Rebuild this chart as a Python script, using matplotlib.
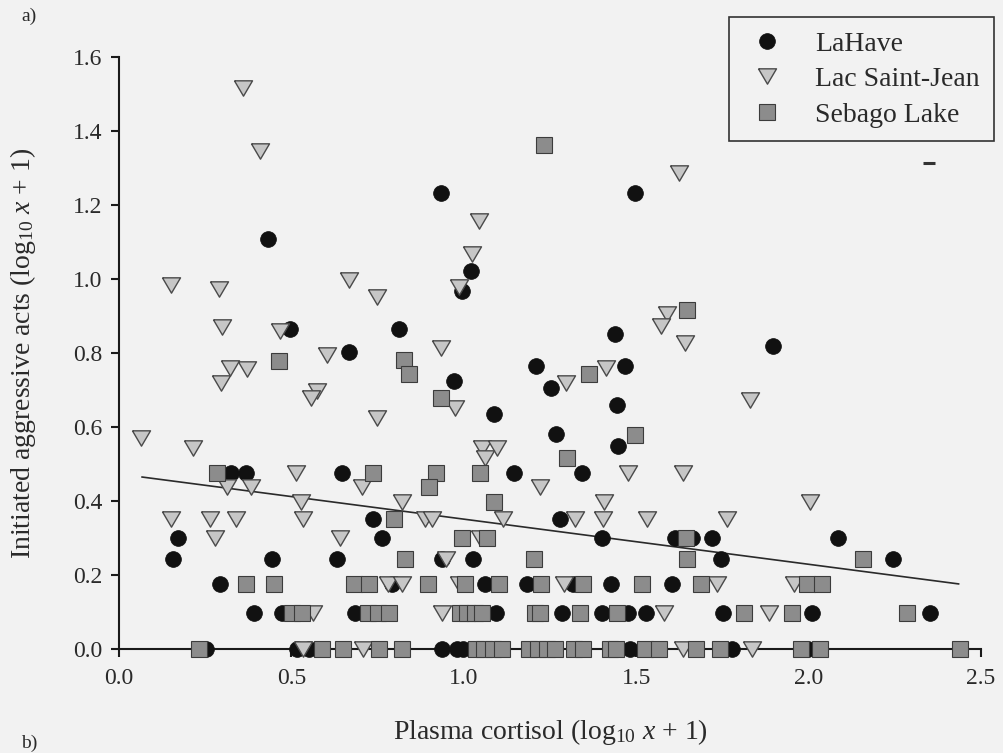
import matplotlib
matplotlib.use("Agg")
import matplotlib.pyplot as plt
import numpy as np
from matplotlib.ticker import FormatStrFormatter

plt.rcParams.update({
    "font.family": ["Liberation Serif", "DejaVu Serif"],
    "mathtext.fontset": "custom",
    "mathtext.rm": "Liberation Serif",
    "mathtext.it": "Liberation Serif:italic",
})

BG = "#f2f2f2"

# LaHave population
lahave_cortisol = [
    0.432, 0.933, 1.496, 0.496, 0.812, 0.667, 0.994, 1.020, 0.971, 1.087,
    1.209, 1.252, 1.467, 1.438, 1.443, 1.267, 1.446, 1.896,
    0.324, 0.368, 0.648, 1.145, 1.342,
    0.736, 1.278,
    0.171, 0.762, 1.400, 1.612, 1.661, 1.719, 2.084,
    0.157, 0.445, 0.631, 0.936, 1.026, 1.745, 2.246,
    0.293, 0.791, 1.061, 1.183, 1.316, 1.426, 1.603,
    0.391, 0.472, 0.684, 1.092, 1.284, 1.400, 1.475, 1.528, 1.751, 2.009, 2.351,
    0.251, 0.517, 0.552, 0.936, 0.980, 0.997, 1.481, 1.777, 1.997,
]
lahave_aggression = [
    1.108, 1.232, 1.232, 0.865, 0.865, 0.802, 0.967, 1.022, 0.724, 0.635,
    0.765, 0.705, 0.765, 0.851, 0.659, 0.581, 0.549, 0.819,
    0.477, 0.477, 0.477, 0.477, 0.477,
    0.352, 0.352,
    0.301, 0.301, 0.301, 0.301, 0.301, 0.301, 0.301,
    0.243, 0.243, 0.243, 0.243, 0.243, 0.243, 0.243,
    0.176, 0.176, 0.176, 0.176, 0.176, 0.176, 0.176,
    0.097, 0.097, 0.097, 0.097, 0.097, 0.097, 0.097, 0.097, 0.097, 0.097, 0.097,
    0.0, 0.0, 0.0, 0.0, 0.0, 0.0, 0.0, 0.0, 0.0,
]

# Lac Saint-Jean population
lsj_cortisol = [
    0.359, 0.409, 1.043, 1.023, 1.623,
    0.151, 0.290, 0.300, 0.467, 0.602, 0.322, 0.371, 0.295, 0.573, 0.556,
    0.063, 0.214,
    0.667, 0.748, 0.986, 0.933, 0.974, 0.748, 1.296, 1.412, 1.052, 1.096, 1.061,
    1.588, 1.571, 1.641, 1.829,
    0.513, 1.475, 1.635,
    0.313, 0.382, 0.704, 1.220,
    0.528, 0.820, 1.406, 2.003,
    0.151, 0.264, 0.339, 0.534, 0.887, 0.907, 1.113, 1.322, 1.403, 1.530, 1.762,
    0.278, 0.641, 1.046,
    0.948,
    0.780, 0.820, 0.986, 1.290, 1.733, 1.957,
    0.563, 0.936, 1.580, 1.884,
    0.533, 0.707, 1.635, 1.835,
]
lsj_aggression = [
    1.516, 1.346, 1.157, 1.068, 1.286,
    0.984, 0.973, 0.870, 0.859, 0.795, 0.759, 0.757, 0.718, 0.697, 0.678,
    0.571, 0.543,
    0.997, 0.951, 0.979, 0.813, 0.651, 0.624, 0.719, 0.759, 0.543, 0.543, 0.516,
    0.905, 0.873, 0.827, 0.673,
    0.477, 0.477, 0.477,
    0.439, 0.439, 0.439, 0.439,
    0.398, 0.398, 0.398, 0.398,
    0.352, 0.352, 0.352, 0.352, 0.352, 0.352, 0.352, 0.352, 0.352, 0.352, 0.352,
    0.301, 0.301, 0.301,
    0.243,
    0.176, 0.176, 0.176, 0.176, 0.176, 0.176,
    0.097, 0.097, 0.097, 0.097,
    0.0, 0.0, 0.0, 0.0,
]

# Sebago Lake population
sebago_cortisol = [
    1.232, 0.463, 0.826, 0.841, 0.933, 1.362, 1.496, 1.298, 1.646,
    0.285, 0.736, 0.919, 1.046,
    0.899,
    1.087,
    0.797,
    0.994, 1.067, 1.643,
    0.829, 1.203, 1.646, 2.157,
    0.367, 0.450, 0.681, 0.725, 0.896, 1.003, 1.101, 1.223, 1.345, 1.516,
    1.687, 1.994, 2.038,
    0.503, 0.532, 0.722, 0.750, 0.783, 0.988, 1.010, 1.032, 1.052, 1.206,
    1.222, 1.336, 1.443, 1.814, 1.951, 2.284,
    0.232, 0.588, 0.649, 0.754, 0.820, 1.035, 1.060, 1.085, 1.110, 1.190,
    1.215, 1.240, 1.264, 1.320, 1.347, 1.423, 1.440, 1.525, 1.565, 1.672,
    1.742, 1.977, 2.032, 2.438,
]
sebago_aggression = [
    1.362, 0.778, 0.781, 0.743, 0.678, 0.743, 0.578, 0.516, 0.916,
    0.477, 0.477, 0.477, 0.477,
    0.439,
    0.398,
    0.352,
    0.301, 0.301, 0.301,
    0.243, 0.243, 0.243, 0.243,
    0.176, 0.176, 0.176, 0.176, 0.176, 0.176, 0.176, 0.176, 0.176, 0.176,
    0.176, 0.176, 0.176,
    0.097, 0.097, 0.097, 0.097, 0.097, 0.097, 0.097, 0.097, 0.097, 0.097,
    0.097, 0.097, 0.097, 0.097, 0.097, 0.097,
    0.0, 0.0, 0.0, 0.0, 0.0, 0.0, 0.0, 0.0, 0.0, 0.0,
    0.0, 0.0, 0.0, 0.0, 0.0, 0.0, 0.0, 0.0, 0.0, 0.0,
    0.0, 0.0, 0.0, 0.0,
]

# small dash left over at the upper right of the plot area
dash_x = [2.35]
dash_y = [1.313]

# pooled regression line
trend_intercept = 0.473
trend_slope = -0.122
trend_range = [0.067, 2.435]

x_ticks = [0.0, 0.5, 1.0, 1.5, 2.0, 2.5]
y_ticks = [0.0, 0.2, 0.4, 0.6, 0.8, 1.0, 1.2, 1.4, 1.6]

# downward triangle, a little wider than tall
tri_down = [(-1.0, 0.85), (1.0, 0.85), (0.0, -0.85), (-1.0, 0.85)]

fig = plt.figure(figsize=(10.04, 7.53), dpi=100)
fig.patch.set_facecolor(BG)
ax = fig.add_axes([0.1185, 0.1381, 0.8586, 0.7862])
ax.set_facecolor(BG)

ax.plot(lahave_cortisol, lahave_aggression, ls="none", marker="o", ms=11.3,
        mfc="#111111", mec="#111111", mew=0.6, clip_on=False, zorder=3,
        label="LaHave")
ax.plot(lsj_cortisol, lsj_aggression, ls="none", marker=tri_down, ms=13,
        mfc="#c6c6c6", mec="#4a4a4a", mew=1.0, clip_on=False, zorder=4,
        label="Lac Saint-Jean")
ax.plot(sebago_cortisol, sebago_aggression, ls="none", marker="s", ms=11.3,
        mfc="#8c8c8c", mec="#3c3c3c", mew=0.8, clip_on=False, zorder=5,
        label="Sebago Lake")
ax.plot(dash_x, dash_y, ls="none", marker="_", ms=9, mew=2.2,
        color="#333333", clip_on=False)

tx = np.array(trend_range)
ax.plot(tx, trend_intercept + trend_slope * tx, color="#2a2a2a", lw=1.2,
        zorder=2)

ax.set_xlim(0, 2.5)
ax.set_ylim(0, 1.6)
ax.set_xticks(x_ticks)
ax.set_yticks(y_ticks)
ax.xaxis.set_major_formatter(FormatStrFormatter("%.1f"))
ax.yaxis.set_major_formatter(FormatStrFormatter("%.1f"))

for side in ("top", "right"):
    ax.spines[side].set_visible(False)
for side in ("left", "bottom"):
    ax.spines[side].set_linewidth(1.5)
    ax.spines[side].set_color("#1a1a1a")
    ax.spines[side].set_zorder(1)

ax.tick_params(axis="both", direction="out", length=6, width=1.5,
               color="#1a1a1a", labelsize=17, labelcolor="#2a2a2a")
ax.tick_params(axis="x", pad=8)
ax.tick_params(axis="y", pad=6)

ax.set_xlabel(r"Plasma cortisol (log$_{10}$ $x$ + 1)", fontsize=20,
              color="#2a2a2a")
ax.set_ylabel(r"Initiated aggressive acts (log$_{10}$ $x$ + 1)", fontsize=20,
              color="#2a2a2a")
ax.xaxis.set_label_coords(0.5, -0.115)
ax.yaxis.set_label_coords(-0.111, 0.5)
ax.yaxis.label.set_va("center")

leg = ax.legend(loc="upper right", bbox_to_anchor=(0.990, 0.977),
                bbox_transform=fig.transFigure, borderaxespad=0,
                fontsize=20, frameon=True, fancybox=False, framealpha=1,
                facecolor=BG, edgecolor="#333333", borderpad=0.5,
                labelspacing=0.36, handlelength=1.7, handletextpad=0.9,
                numpoints=1)
leg.get_frame().set_linewidth(1.2)
for t in leg.get_texts():
    t.set_color("#2a2a2a")

fig.text(0.021, 1 - 16 / 753, "a)", fontsize=14, va="center", ha="left",
         color="#2a2a2a")
fig.text(0.021, 1 / 753, "b)", fontsize=14, va="bottom", ha="left",
         color="#2a2a2a")

fig.savefig("out.png", dpi=100, facecolor=BG)
